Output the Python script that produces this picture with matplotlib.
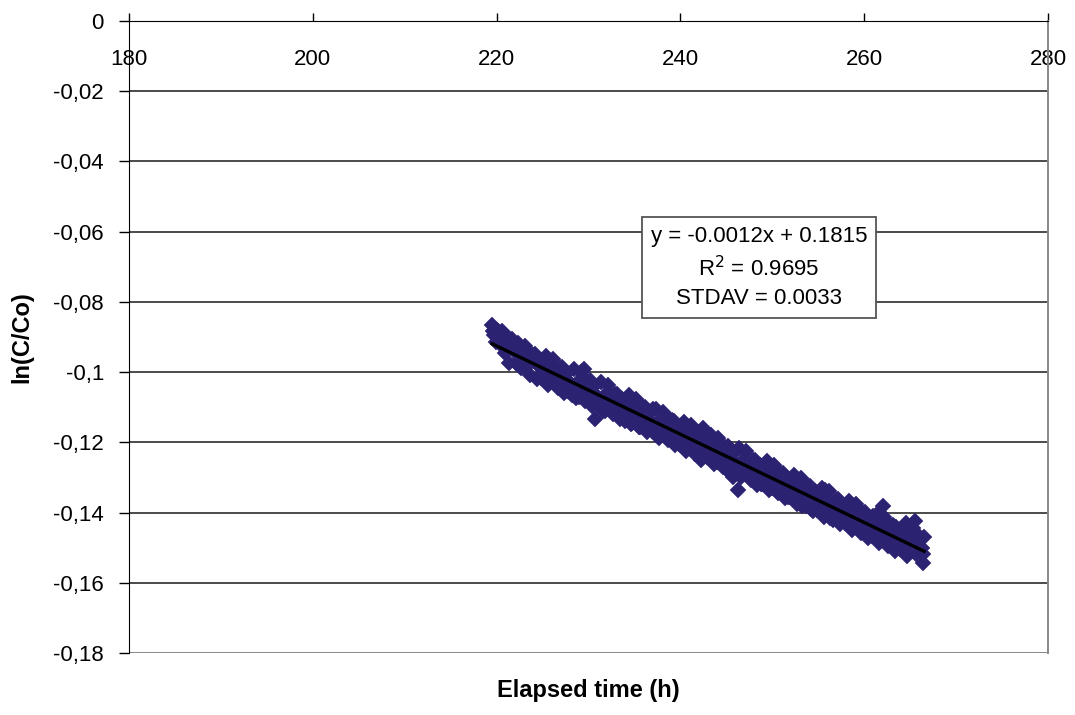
import numpy as np
import matplotlib
matplotlib.use("Agg")
import matplotlib.pyplot as plt
from matplotlib.ticker import FuncFormatter

plt.rcParams["font.family"] = ["Liberation Sans", "DejaVu Sans"]

# elapsed time (h) and ln(C/Co) (two interleaved sampling runs)
time_a = [
    219.50, 219.75, 220.00, 220.25, 220.50, 220.75, 221.00, 221.25, 221.50, 221.75,
    222.00, 222.25, 222.50, 222.75, 223.00, 223.25, 223.50, 223.75, 224.00, 224.25,
    224.50, 224.75, 225.00, 225.25, 225.50, 225.75, 226.00, 226.25, 226.50, 226.75,
    227.00, 227.25, 227.50, 227.75, 228.00, 228.25, 228.50, 228.75, 229.00, 229.25,
    229.50, 229.75, 230.00, 230.25, 230.50, 230.75, 231.00, 231.25, 231.50, 231.75,
    232.00, 232.25, 232.50, 232.75, 233.00, 233.25, 233.50, 233.75, 234.00, 234.25,
    234.50, 234.75, 235.00, 235.25, 235.50, 235.75, 236.00, 236.25, 236.50, 236.75,
    237.00, 237.25, 237.50, 237.75, 238.00, 238.25, 238.50, 238.75, 239.00, 239.25,
    239.50, 239.75, 240.00, 240.25, 240.50, 240.75, 241.00, 241.25, 241.50, 241.75,
    242.00, 242.25, 242.50, 242.75, 243.00, 243.25, 243.50, 243.75, 244.00, 244.25,
    244.50, 244.75, 245.00, 245.25, 245.50, 245.75, 246.00, 246.25, 246.50, 246.75,
    247.00, 247.25, 247.50, 247.75, 248.00, 248.25, 248.50, 248.75, 249.00, 249.25,
    249.50, 249.75, 250.00, 250.25, 250.50, 250.75, 251.00, 251.25, 251.50, 251.75,
    252.00, 252.25, 252.50, 252.75, 253.00, 253.25, 253.50, 253.75, 254.00, 254.25,
    254.50, 254.75, 255.00, 255.25, 255.50, 255.75, 256.00, 256.25, 256.50, 256.75,
    257.00, 257.25, 257.50, 257.75, 258.00, 258.25, 258.50, 258.75, 259.00, 259.25,
    259.50, 259.75, 260.00, 260.25, 260.50, 260.75, 261.00, 261.25, 261.50, 261.75,
    262.00, 262.25, 262.50, 262.75, 263.00, 263.25, 263.50, 263.75, 264.00, 264.25,
    264.50, 264.75, 265.00, 265.25, 265.50, 265.75, 266.00, 266.25, 266.35, 266.50,
]
ln_a = [
    -0.0865, -0.0895, -0.0880, -0.0905, -0.0890, -0.0912, -0.0898, -0.0925, -0.0905, -0.0930,
    -0.0918, -0.0940, -0.0925, -0.0948, -0.0935, -0.0958, -0.0945, -0.0962, -0.0950, -0.0975,
    -0.0960, -0.0985, -0.0970, -0.0995, -0.0985, -0.1000, -0.0978, -0.1010, -0.1000, -0.1025,
    -0.1005, -0.1040, -0.1020, -0.1055, -0.1030, -0.1065, -0.1040, -0.1050, -0.1070, -0.1045,
    -0.0990, -0.1060, -0.1080, -0.1055, -0.1090, -0.1135, -0.1070, -0.1095, -0.1080, -0.1110,
    -0.1060, -0.1100, -0.1085, -0.1115, -0.1095, -0.1125, -0.1080, -0.1110, -0.1140, -0.1100,
    -0.1120, -0.1145, -0.1110, -0.1130, -0.1155, -0.1125, -0.1140, -0.1160, -0.1130, -0.1150,
    -0.1105, -0.1165, -0.1145, -0.1175, -0.1150, -0.1180, -0.1160, -0.1190, -0.1165, -0.1140,
    -0.1195, -0.1175, -0.1205, -0.1180, -0.1160, -0.1200, -0.1185, -0.1215, -0.1195, -0.1225,
    -0.1205, -0.1250, -0.1160, -0.1215, -0.1235, -0.1210, -0.1240, -0.1225, -0.1255, -0.1230,
    -0.1265, -0.1240, -0.1275, -0.1250, -0.1235, -0.1300, -0.1260, -0.1335, -0.1275, -0.1250,
    -0.1290, -0.1265, -0.1280, -0.1300, -0.1275, -0.1310, -0.1290, -0.1320, -0.1295, -0.1280,
    -0.1315, -0.1300, -0.1330, -0.1305, -0.1290, -0.1325, -0.1310, -0.1345, -0.1320, -0.1355,
    -0.1330, -0.1310, -0.1345, -0.1365, -0.1340, -0.1380, -0.1350, -0.1330, -0.1365, -0.1390,
    -0.1360, -0.1375, -0.1350, -0.1400, -0.1375, -0.1335, -0.1390, -0.1415, -0.1385, -0.1400,
    -0.1370, -0.1420, -0.1395, -0.1410, -0.1380, -0.1430, -0.1405, -0.1420, -0.1395, -0.1440,
    -0.1415, -0.1400, -0.1430, -0.1450, -0.1420, -0.1445, -0.1410, -0.1455, -0.1430, -0.1460,
    -0.1380, -0.1445, -0.1465, -0.1435, -0.1455, -0.1475, -0.1440, -0.1460, -0.1485, -0.1450,
    -0.1430, -0.1470, -0.1490, -0.1445, -0.1425, -0.1460, -0.1480, -0.1500, -0.1545, -0.1470,
]

time_b = [
    219.625, 219.875,
    220.125, 220.375, 220.625, 220.875, 221.125, 221.375, 221.625, 221.875,
    222.125, 222.375, 222.625, 222.875, 223.125, 223.375, 223.625, 223.875,
    224.125, 224.375, 224.625, 224.875, 225.125, 225.375, 225.625, 225.875,
    226.125, 226.375, 226.625, 226.875, 227.125, 227.375, 227.625, 227.875,
    228.125, 228.375, 228.625, 228.875, 229.125, 229.375, 229.625, 229.875,
    230.125, 230.375, 230.625, 230.875, 231.125, 231.375, 231.625, 231.875,
    232.125, 232.375, 232.625, 232.875, 233.125, 233.375, 233.625, 233.875,
    234.125, 234.375, 234.625, 234.875, 235.125, 235.375, 235.625, 235.875,
    236.125, 236.375, 236.625, 236.875, 237.125, 237.375, 237.625, 237.875,
    238.125, 238.375, 238.625, 238.875, 239.125, 239.375, 239.625, 239.875,
    240.125, 240.375, 240.625, 240.875, 241.125, 241.375, 241.625, 241.875,
    242.125, 242.375, 242.625, 242.875, 243.125, 243.375, 243.625, 243.875,
    244.125, 244.375, 244.625, 244.875, 245.125, 245.375, 245.625, 245.875,
    246.125, 246.375, 246.625, 246.875, 247.125, 247.375, 247.625, 247.875,
    248.125, 248.375, 248.625, 248.875, 249.125, 249.375, 249.625, 249.875,
    250.125, 250.375, 250.625, 250.875, 251.125, 251.375, 251.625, 251.875,
    252.125, 252.375, 252.625, 252.875, 253.125, 253.375, 253.625, 253.875,
    254.125, 254.375, 254.625, 254.875, 255.125, 255.375, 255.625, 255.875,
    256.125, 256.375, 256.625, 256.875, 257.125, 257.375, 257.625, 257.875,
    258.125, 258.375, 258.625, 258.875, 259.125, 259.375, 259.625, 259.875,
    260.125, 260.375, 260.625, 260.875, 261.125, 261.375, 261.625, 261.875,
    262.125, 262.375, 262.625, 262.875, 263.125, 263.375, 263.625, 263.875,
    264.125, 264.375, 264.625, 264.875, 265.125, 265.375, 265.625, 265.875,
    266.125, 266.375,
]
ln_b = [
    -0.0882, -0.0915,
    -0.0898, -0.0921, -0.0884, -0.0947, -0.0921, -0.0974, -0.0907, -0.0940,
    -0.0973, -0.0916, -0.0989, -0.0942, -0.0926, -0.0979, -0.1007, -0.0950,
    -0.0948, -0.1021, -0.0964, -0.1017, -0.1011, -0.0954, -0.1037, -0.0990,
    -0.0963, -0.1016, -0.1044, -0.0987, -0.0986, -0.1059, -0.1002, -0.1055,
    -0.1048, -0.0991, -0.1074, -0.1027, -0.1001, -0.1054, -0.1082, -0.1025,
    -0.1023, -0.1096, -0.1039, -0.1092, -0.1086, -0.1029, -0.1112, -0.1065,
    -0.1038, -0.1091, -0.1119, -0.1062, -0.1061, -0.1134, -0.1077, -0.1130,
    -0.1123, -0.1066, -0.1149, -0.1102, -0.1076, -0.1129, -0.1157, -0.1100,
    -0.1098, -0.1171, -0.1114, -0.1167, -0.1161, -0.1104, -0.1187, -0.1140,
    -0.1113, -0.1166, -0.1194, -0.1137, -0.1136, -0.1209, -0.1152, -0.1205,
    -0.1198, -0.1141, -0.1224, -0.1177, -0.1151, -0.1204, -0.1232, -0.1175,
    -0.1173, -0.1246, -0.1189, -0.1242, -0.1236, -0.1179, -0.1262, -0.1215,
    -0.1188, -0.1241, -0.1269, -0.1212, -0.1211, -0.1284, -0.1227, -0.1280,
    -0.1274, -0.1217, -0.1300, -0.1253, -0.1226, -0.1279, -0.1307, -0.1250,
    -0.1249, -0.1322, -0.1265, -0.1318, -0.1311, -0.1254, -0.1337, -0.1290,
    -0.1264, -0.1317, -0.1345, -0.1288, -0.1286, -0.1359, -0.1302, -0.1355,
    -0.1349, -0.1292, -0.1375, -0.1328, -0.1301, -0.1354, -0.1382, -0.1325,
    -0.1324, -0.1397, -0.1340, -0.1393, -0.1386, -0.1329, -0.1412, -0.1365,
    -0.1339, -0.1392, -0.1420, -0.1363, -0.1361, -0.1434, -0.1377, -0.1430,
    -0.1424, -0.1367, -0.1450, -0.1403, -0.1376, -0.1429, -0.1457, -0.1400,
    -0.1399, -0.1472, -0.1415, -0.1468, -0.1461, -0.1404, -0.1487, -0.1440,
    -0.1414, -0.1467, -0.1495, -0.1438, -0.1436, -0.1509, -0.1452, -0.1505,
    -0.1499, -0.1442, -0.1525, -0.1478, -0.1451, -0.1484, -0.1517, -0.1470,
    -0.1474, -0.1517,
]

fit_label = ["y = -0.0012x + 0.1815", "R$^2$ = 0.9695", "STDAV = 0.0033"]
x_ticks = [180, 200, 220, 240, 260, 280]
y_ticks = [0, -0.02, -0.04, -0.06, -0.08, -0.1, -0.12, -0.14, -0.16, -0.18]

x = np.array(time_a + time_b)
y = np.array(ln_a + ln_b)
order = np.argsort(x)
x, y = x[order], y[order]

fig = plt.figure(figsize=(10.75, 7.15), dpi=100)
ax = fig.add_axes([0.12, 0.0867, 0.855, 0.884])

# horizontal gridlines
for yt in y_ticks[1:-1]:
    ax.axhline(yt, color="#1a1a1a", lw=1.1, zorder=1)
ax.axhline(y_ticks[-1], color="#888888", lw=1.4, zorder=1)

ax.plot(x, y, "D", ms=8, color="#2B2272", mec="#2B2272", mew=0.3, zorder=2)

# linear trend line
coef = np.polyfit(x, y, 1)
xl = np.array([x.min(), x.max()])
ax.plot(xl, np.polyval(coef, xl), color="black", lw=2.4, zorder=3)

ax.set_xlim(180, 280)
ax.set_ylim(-0.18, 0)
ax.set_xticks(x_ticks)
ax.set_yticks(y_ticks)

def comma_fmt(v, pos):
    if abs(v) < 1e-12:
        return "0"
    s = f"{v:.2f}".rstrip("0").rstrip(".")
    return s.replace(".", ",")

ax.yaxis.set_major_formatter(FuncFormatter(comma_fmt))

ax.xaxis.set_ticks_position("top")
ax.tick_params(axis="x", direction="out", length=6, width=1, labelsize=16,
               pad=-41.5, labeltop=True, labelbottom=False)
ax.tick_params(axis="y", direction="out", length=7, width=1, labelsize=16, pad=11)

ax.spines["bottom"].set_visible(False)
ax.spines["right"].set_color("#888888")
ax.spines["right"].set_linewidth(1.4)
ax.spines["top"].set_color("black")
ax.spines["left"].set_color("black")

ax.set_xlabel("Elapsed time (h)", fontsize=17, fontweight="bold")
ax.xaxis.set_label_position("bottom")
ax.xaxis.labelpad = 19
ax.set_ylabel("ln(C/Co)", fontsize=17, fontweight="bold", labelpad=14)

ax.text(248.55, -0.0702, "\n".join(fit_label), ha="center", va="center",
        fontsize=16, linespacing=1.45, zorder=4,
        bbox=dict(boxstyle="square,pad=0.38", fc="white", ec="#555555", lw=1.3))

fig.savefig("out.png", dpi=100)
